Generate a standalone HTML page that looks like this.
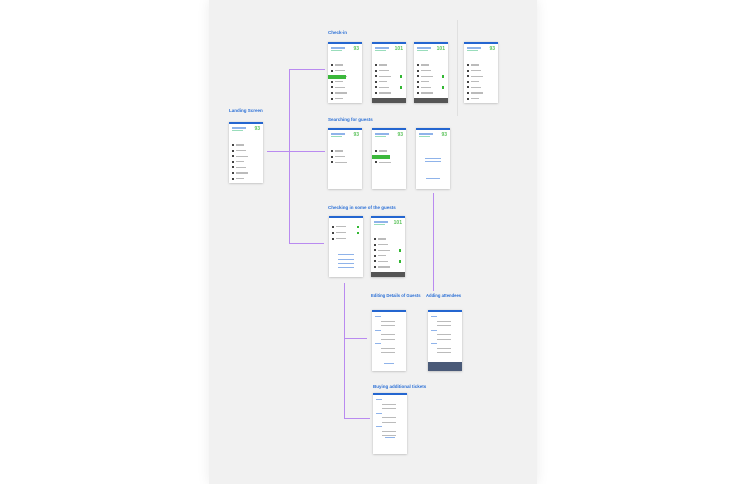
<!DOCTYPE html>
<html><head><meta charset="utf-8"><style>
*{margin:0;padding:0;box-sizing:border-box}
body{width:746px;height:484px;background:#fff;position:relative;overflow:hidden;font-family:"Liberation Sans",sans-serif}
.panel{position:absolute;left:209px;top:0;width:328px;height:484px;background:#f1f1f1;box-shadow:0 0 12px rgba(0,0,0,.08)}
.lbl{position:absolute;font-size:4.5px;font-weight:bold;color:#2a6fd6;white-space:nowrap}
.ph{position:absolute;width:34px;height:61px;background:#fff;box-shadow:0 0.5px 2px rgba(0,0,0,.25);overflow:hidden}
.ph .bar{height:2px;background:#2466d0}
.ph .h1{position:absolute;left:3px;top:5px;width:14px;height:1.5px;background:#8fb3ea}
.ph .h2{position:absolute;left:3px;top:8px;width:11px;height:1.2px;background:#9db}
.ph .num{position:absolute;right:3px;top:4px;font-size:5px;font-weight:bold;color:#5cc35c}
.ph .row{position:absolute;left:3px;height:1.4px;width:10px;background:#bbb}
.ph .dot{position:absolute;left:3px;width:2px;height:2px;background:#444}
.ph .chk{position:absolute;right:4px;width:2.4px;height:2.4px;background:#33b833}
.ph .foot{position:absolute;left:0;bottom:0;width:100%;height:5px;background:#555}
.ph .btn{position:absolute;left:0;width:18px;height:4px;background:#3cb83c}
.ph .link{position:absolute;height:1.2px;background:#8fb3ea}
.ln{position:absolute;background:#b98af0}
</style></head><body>
<div class="panel"></div>
<div style="position:absolute;left:457px;top:20px;width:1px;height:96px;background:#e0e0e0"></div>

<div class="ln" style="left:289px;top:69px;width:1px;height:175px"></div>
<div class="ln" style="left:289px;top:69px;width:36px;height:1px"></div>
<div class="ln" style="left:267px;top:151px;width:58px;height:1px"></div>
<div class="ln" style="left:289px;top:243px;width:35px;height:1px"></div>
<div class="ln" style="left:344px;top:283px;width:1px;height:136px"></div>
<div class="ln" style="left:344px;top:338px;width:23px;height:1px"></div>
<div class="ln" style="left:344px;top:418px;width:26px;height:1px"></div>
<div class="ln" style="left:433px;top:193px;width:1px;height:98px"></div>

<div class="lbl" style="left:229px;top:108px">Landing Screen</div>
<div class="lbl" style="left:328px;top:30px">Check-in</div>
<div class="lbl" style="left:328px;top:117px">Searching for guests</div>
<div class="lbl" style="left:328px;top:205px">Checking in some of the guests</div>
<div class="lbl" style="left:371px;top:293px;font-size:4.2px">Editing Details of Guests</div>
<div class="lbl" style="left:426px;top:293px;font-size:4.2px">Adding attendees</div>
<div class="lbl" style="left:373px;top:384px">Buying additional tickets</div>

<div id="phones"></div>
<script>
var P=[
[229,122,'93',0,0,0],
[328,42,'93',0,1,0],[372,42,'101',1,0,1],[414,42,'101',1,0,1],[464,42,'93',0,0,1],
[328,128,'93',0,0,2],[372,128,'93',0,1,2],[416,128,'93',0,0,3],
[329,216,'',0,0,4],[371,216,'101',1,0,1],
[372,310,'',0,0,5],[428,310,'',2,0,5],
[373,393,'',0,0,6]];
var h='';
P.forEach(function(p){
 var s='<div class="ph" style="left:'+p[0]+'px;top:'+p[1]+'px"><div class="bar"></div>';
 if(p[2]){s+='<div class="h1"></div><div class="h2"></div><div class="num">'+p[2]+'</div>';}
 var t=p[5];
 if(t<=2){var n=t==2?3:7;for(var i=0;i<n;i++){var y=22+i*5.6;s+='<div class="dot" style="top:'+y+'px"></div><div class="row" style="left:7px;top:'+(y+.3)+'px;width:'+(8+i%3*2)+'px"></div>';if(p[3]==1&&i%2==0&&i>1)s+='<div class="chk" style="top:'+y+'px"></div>';}
  if(p[4])s+='<div class="btn" style="top:'+(t==2?27:33)+'px"></div>';}
 if(t==3){s+='<div class="link" style="left:9px;top:30px;width:16px"></div><div class="link" style="left:9px;top:33px;width:16px"></div><div class="link" style="left:10px;top:50px;width:14px"></div>';}
 if(t==4){for(var i=0;i<3;i++){var y=10+i*6;s+='<div class="dot" style="top:'+y+'px"></div><div class="row" style="left:7px;top:'+y+'px"></div>';if(i<2)s+='<div class="chk" style="top:'+y+'px"></div>';}
  [38,43,47,51].forEach(function(y){s+='<div class="link" style="left:9px;top:'+y+'px;width:16px"></div>';});}
 if(t==5||t==6){for(var i=0;i<9;i++){var y=6+i*4.5;s+='<div class="row" style="left:'+(i%3==0?3:9)+'px;top:'+y+'px;width:'+(i%3==0?6:14)+'px;background:'+(i%3==0?'#8fb3ea':'#bbb')+'"></div>';}s+='<div class="link" style="left:12px;top:'+(t==6?44:53)+'px;width:10px"></div>';}
 if(p[3]==1)s+='<div class="foot"></div>';
 if(p[3]==2)s+='<div class="foot" style="height:9px;background:#4a5a78"></div>';
 h+=s+'</div>';});
document.getElementById('phones').innerHTML=h;
</script>
</body></html>
